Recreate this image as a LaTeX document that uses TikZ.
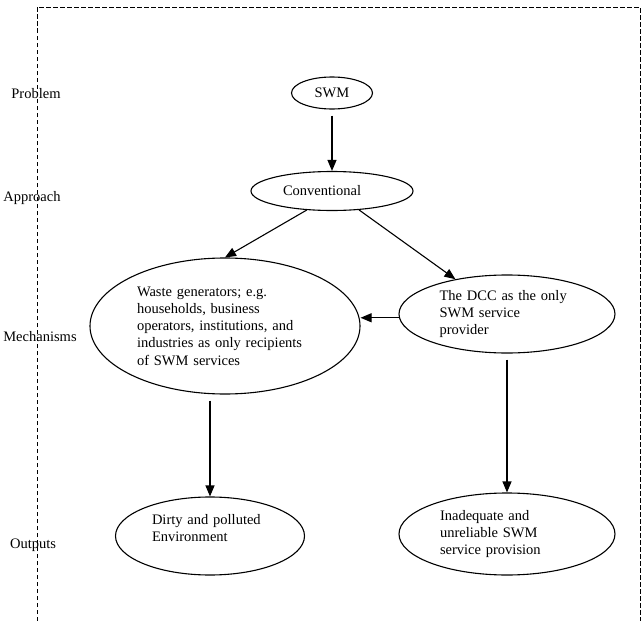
\documentclass[tikz,border=0pt]{standalone}
\usepackage{fontspec}
\setmainfont{Liberation Serif}
\usetikzlibrary{arrows.meta, shapes.geometric}
\tikzset{
  oval/.style  = {ellipse, draw, line width=1.1pt, inner sep=0pt, align=left,
                  font=\fontsize{14.5}{17.2}\selectfont},
  arrow/.style = {-{Triangle[length=11pt, width=9pt]}, line width=1.1pt},
  frame/.style = {dash pattern=on 4.5pt off 2.5pt, line width=0.9pt},
  lvl/.style   = {font=\fontsize{14.5}{17.2}\selectfont},
}

\begin{document}
\begin{tikzpicture}[x=1pt, y=-1pt]
  \useasboundingbox (0,0) rectangle (641,621);
  \draw[frame] (37,621) -- (37,7) -- (640,7) -- (640,621);
  % levels
  \node[lvl] (lproblem) at (36,94) {Problem};
  \node[lvl] (lapproach) at (32,198) {Approach};
  \node[lvl] (lmech) at (40,337) {Mechanisms};
  \node[lvl] (lout) at (33,545) {Outputs};
  % ovals
  \node[oval, minimum width=81pt, minimum height=32pt] (swm) at (332,93) {SWM};
  \node[oval, minimum width=162pt, minimum height=39pt, text width=98pt] (conv) at (332,191) {Conventional};
  \node[oval, minimum width=270pt, minimum height=136pt, text width=176pt] (waste) at (225,326)
    {Waste generators; e.g.\\ households, business\\ operators, institutions, and\\ industries as only recipients\\ of SWM services};
  \node[oval, minimum width=216pt, minimum height=78pt, text width=135pt] (dcc) at (507,314)
    {The DCC as the only\\ SWM service\\ provider};
  \node[oval, minimum width=189pt, minimum height=78pt, text width=116pt, text depth=34pt] (dirty) at (210,536)
    {Dirty and polluted\\ Environment};
  \node[oval, minimum width=216pt, minimum height=82pt, text width=134pt] (inad) at (507,534)
    {Inadequate and\\ unreliable SWM\\ service provision};
  % arrows
  \draw[arrow, shorten <=6pt] (swm.south) -- (conv.north);
  \foreach \a/\b in {conv.217/waste.north, conv.325/dcc.146} {
    \draw[arrow] (\a) -- (\b);
  }
  \draw[arrow] (dcc.182) -- (dcc.182 -| waste.east);
  \draw[arrow, shorten <=6pt] (waste.south -| dirty.north) -- (dirty.north);
  \draw[arrow, shorten <=6pt] (dcc.south) -- (inad.north);
\end{tikzpicture}
\end{document}
